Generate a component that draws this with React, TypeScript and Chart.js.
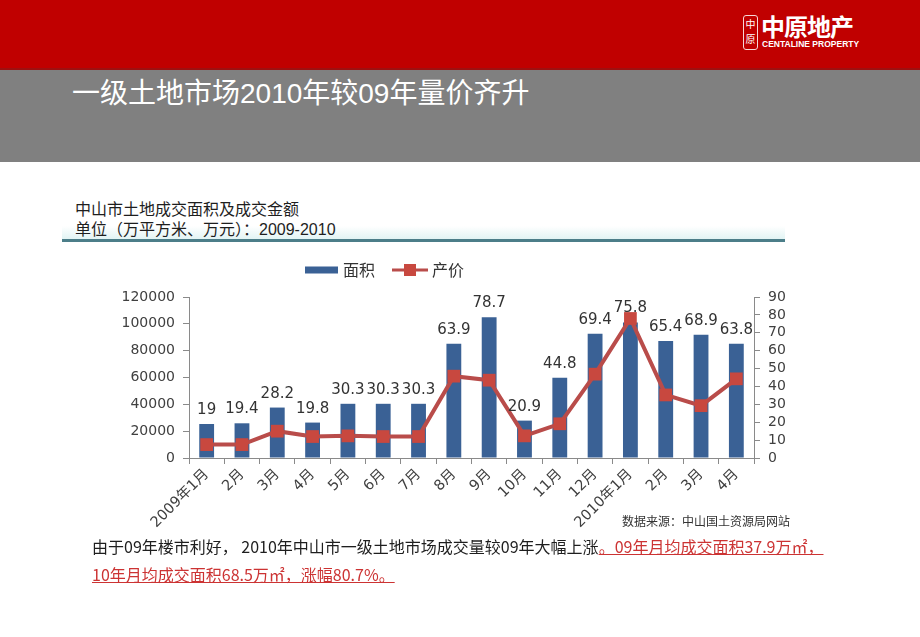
import React, { useEffect, useRef } from "react";
import { Chart, registerables } from "chart.js";

Chart.register(...registerables);

const categories = [
  "2009年1月", "2月", "3月", "4月", "5月", "6月", "7月", "8月",
  "9月", "10月", "11月", "12月", "2010年1月", "2月", "3月", "4月",
];
const areaValues = [19, 19.4, 28.2, 19.8, 30.3, 30.3, 30.3, 63.9, 78.7, 20.9, 44.8, 69.4, 75.8, 65.4, 68.9, 63.8];
const priceValues = [10000, 10000, 20000, 16000, 16500, 16000, 16000, 61000, 58000, 16500, 25500, 62500, 104000, 47000, 39000, 59000];
const seriesNames = ["面积", "产价"];
const leftAxis = { min: 0, max: 120000, step: 20000 };
const rightAxis = { min: 0, max: 90, step: 10 };

const FONT = '"DejaVu Sans", "Noto Sans CJK SC", sans-serif';
const BAR_COLOR = "#3A6195";
const LINE_COLOR = "#B94C4A";
const MARK_COLOR = "#C8483F";
const TEXT_COLOR = "#404040";
const AXIS_COLOR = "#8A8A8A";

const labelPlugin = {
  id: "barLabels",
  afterDatasetsDraw(chart: any) {
    const ctx = chart.ctx;
    const meta = chart.getDatasetMeta(1);
    ctx.save();
    ctx.font = `15px ${FONT}`;
    ctx.fillStyle = "#333333";
    ctx.textAlign = "center";
    ctx.textBaseline = "alphabetic";
    meta.data.forEach((el: any, i: number) => {
      ctx.fillText(String(chart.data.datasets[1].data[i]), el.x, el.y - 10);
    });
    ctx.restore();
  },
};

const legendPlugin = {
  id: "customLegend",
  afterDraw(chart: any) {
    const ctx = chart.ctx;
    const a = chart.chartArea;
    const y = a.top - 27;
    const x0 = a.left + 116;
    ctx.save();
    ctx.fillStyle = BAR_COLOR;
    ctx.fillRect(x0, y - 3.5, 33, 7);
    ctx.font = `16px "Noto Sans CJK SC", ${FONT}`;
    ctx.fillStyle = "#333333";
    ctx.textBaseline = "middle";
    ctx.textAlign = "left";
    ctx.fillText(seriesNames[0], x0 + 38, y);
    const lx = x0 + 87;
    ctx.strokeStyle = LINE_COLOR;
    ctx.lineWidth = 3;
    ctx.beginPath();
    ctx.moveTo(lx, y);
    ctx.lineTo(lx + 36, y);
    ctx.stroke();
    ctx.fillStyle = MARK_COLOR;
    ctx.fillRect(lx + 12, y - 6, 12, 12);
    ctx.fillStyle = "#333333";
    ctx.fillText(seriesNames[1], lx + 40, y);
    ctx.restore();
  },
};

function ChartView() {
  const ref = useRef<HTMLCanvasElement | null>(null);
  useEffect(() => {
    if (!ref.current) return;
    const chart = new Chart(ref.current, {
      type: "bar",
      data: {
        labels: categories,
        datasets: [
          {
            type: "line",
            label: seriesNames[1],
            data: priceValues,
            yAxisID: "yL",
            borderColor: LINE_COLOR,
            borderWidth: 4,
            pointStyle: "rect",
            pointRadius: 9,
            pointBackgroundColor: MARK_COLOR,
            pointBorderWidth: 0,
            tension: 0,
            order: 1,
          } as any,
          {
            type: "bar",
            label: seriesNames[0],
            data: areaValues,
            yAxisID: "yR",
            backgroundColor: BAR_COLOR,
            categoryPercentage: 0.42,
            barPercentage: 1,
            order: 2,
          } as any,
        ],
      },
      options: {
        responsive: false,
        maintainAspectRatio: false,
        animation: false,
        devicePixelRatio: 1,
        layout: { padding: { top: 47, left: 0, right: 0, bottom: 0 } },
        plugins: { legend: { display: false }, tooltip: { enabled: false } },
        scales: {
          x: {
            offset: true,
            border: { color: AXIS_COLOR, width: 1 },
            grid: { display: true, drawOnChartArea: false, drawTicks: true, tickLength: 6, color: AXIS_COLOR, offset: true },
            ticks: {
              autoSkip: false,
              maxRotation: 45,
              minRotation: 45,
              padding: 2,
              color: TEXT_COLOR,
              font: { size: 14.5, family: FONT },
            },
            afterFit(scale: any) {
              scale.height = 82;
            },
          },
          yL: {
            position: "left",
            min: leftAxis.min,
            max: leftAxis.max,
            border: { color: AXIS_COLOR, width: 1 },
            grid: { drawOnChartArea: false, drawTicks: true, tickLength: 6, color: AXIS_COLOR },
            ticks: {
              stepSize: leftAxis.step,
              autoSkip: false,
              padding: 8,
              color: TEXT_COLOR,
              font: { size: 14, family: FONT },
              callback: (v: any) => String(v),
            },
            afterFit(scale: any) {
              scale.width = 89;
            },
          },
          yR: {
            position: "right",
            min: rightAxis.min,
            max: rightAxis.max,
            border: { color: AXIS_COLOR, width: 1 },
            grid: { drawOnChartArea: false, drawTicks: true, tickLength: 6, color: AXIS_COLOR },
            ticks: {
              stepSize: rightAxis.step,
              autoSkip: false,
              padding: 8,
              color: TEXT_COLOR,
              font: { size: 14, family: FONT },
              callback: (v: any) => String(v),
            },
            afterFit(scale: any) {
              scale.width = 66;
            },
          },
        },
      },
      plugins: [labelPlugin, legendPlugin],
    });
    return () => chart.destroy();
  }, []);
  return (
    <canvas
      ref={ref}
      width={720}
      height={290}
      style={{ position: "absolute", left: 100, top: 250, width: 720, height: 290, display: "block" }}
    />
  );
}

const CJK = '"Noto Sans CJK SC", "DejaVu Sans", sans-serif';
const redText: React.CSSProperties = { color: "#CC3333", textDecoration: "underline", textDecorationColor: "#CC3333" };

export default function App() {
  return (
    <div
      style={{
        position: "absolute",
        left: 0,
        top: 0,
        width: 920,
        height: 637,
        background: "#ffffff",
        overflow: "hidden",
        fontFamily: CJK,
      }}
    >
      <div style={{ position: "absolute", left: 0, top: 0, width: 920, height: 68, background: "#C00000", borderBottom: "2px solid #9E1010" }} />
      <div
        style={{
          position: "absolute",
          left: 743,
          top: 15,
          width: 13,
          height: 33,
          border: "1px solid #F6D6D6",
          borderRadius: 3,
          color: "#FFFFFF",
          fontSize: 10,
          lineHeight: "15px",
          textAlign: "center",
          fontFamily: CJK,
        }}
      >
        中<br />原
      </div>
      <div style={{ position: "absolute", left: 761, top: 10, color: "#FFFFFF", fontSize: 24, fontWeight: 700, lineHeight: "32px", fontFamily: CJK, letterSpacing: -1 }}>
        中原地产
      </div>
      <div style={{ position: "absolute", left: 762, top: 39, color: "#FFFFFF", fontSize: 8.5, fontWeight: 700, lineHeight: "11px", fontFamily: '"Liberation Sans", Arial, sans-serif', whiteSpace: "nowrap" }}>
        CENTALINE PROPERTY
      </div>
      <div style={{ position: "absolute", left: 0, top: 70, width: 920, height: 92, background: "#808080" }} />
      <div style={{ position: "absolute", left: 72, top: 76, color: "#FFFFFF", fontSize: 28, lineHeight: "36px", whiteSpace: "nowrap", fontFamily: '"Liberation Sans", "Noto Sans CJK SC", sans-serif' }}>
        一级土地市场2010年较09年量价齐升
      </div>
      <div style={{ position: "absolute", left: 62, top: 226, width: 723, height: 13, background: "linear-gradient(to bottom, rgba(230,247,247,0), #E2F4F4)" }} />
      <div style={{ position: "absolute", left: 62, top: 239, width: 723, height: 3, background: "#4C7E89" }} />
      <div style={{ position: "absolute", left: 75, top: 198, color: "#1E1E1E", fontSize: 16, lineHeight: "20px", whiteSpace: "nowrap", fontFamily: CJK }}>
        中山市土地成交面积及成交金额
        <br />
        单位（万平方米、万元）：<span style={{ fontFamily: '"Liberation Sans", sans-serif' }}>2009-2010</span>
      </div>
      <ChartView />
      <div style={{ position: "absolute", left: 622, top: 513, color: "#333333", fontSize: 12, lineHeight: "16px", whiteSpace: "nowrap", fontFamily: CJK }}>
        数据来源：中山国土资源局网站
      </div>
      <div style={{ position: "absolute", left: 92, top: 532, color: "#1E1E1E", fontSize: 16, lineHeight: "28px", whiteSpace: "nowrap", fontFamily: CJK }}>
        由于09年楼市利好， 2010年中山市一级土地市场成交量较09年大幅上涨<span style={redText}>。09年月均成交面积37.9万㎡，</span>
        <br />
        <span style={redText}>10年月均成交面积68.5万㎡，涨幅80.7%。</span>
      </div>
    </div>
  );
}
